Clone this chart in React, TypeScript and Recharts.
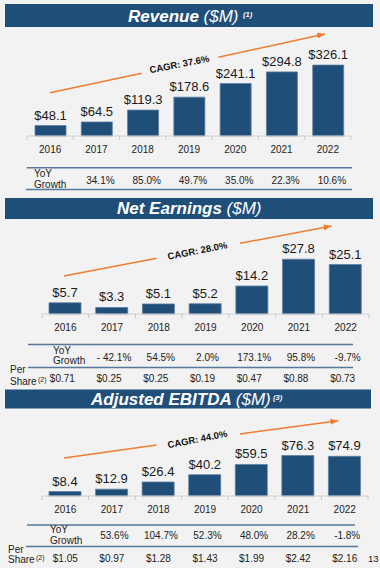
import { BarChart, Bar, XAxis, YAxis, LabelList } from "recharts"

const years = ["2016", "2017", "2018", "2019", "2020", "2021", "2022"]

const revenue = [48.1, 64.5, 119.3, 178.6, 241.1, 294.8, 326.1]
const revenueYoy = ["", "34.1%", "85.0%", "49.7%", "35.0%", "22.3%", "10.6%"]

const netEarnings = [5.7, 3.3, 5.1, 5.2, 14.2, 27.8, 25.1]
const netYoy = ["", "- 42.1%", "54.5%", "2.0%", "173.1%", "95.8%", "-9.7%"]
const netPerShare = ["$0.71", "$0.25", "$0.25", "$0.19", "$0.47", "$0.88", "$0.73"]

const ebitda = [8.4, 12.9, 26.4, 40.2, 59.5, 76.3, 74.9]
const ebitdaYoy = ["", "53.6%", "104.7%", "52.3%", "48.0%", "28.2%", "-1.8%"]
const ebitdaPerShare = ["$1.05", "$0.97", "$1.28", "$1.43", "$1.99", "$2.42", "$2.16"]

const cagr = ["37.6%", "28.0%", "44.0%"]

const NAVY = "#1f4e79"
const ORANGE = "#ed7d31"
const LINE = "#56799b"
const FONT = "'Liberation Sans', Arial, sans-serif"

type SectionProps = {
  top: number
  height: number
  left: number
  right: number
  baseline: number
  marginTop: number
  max: number
  barSize: number
  values: number[]
  yoy: string[]
  yoyDx: number
  yoyDy: number
  perShare?: string[]
  psDx?: number
  psDy?: number
}

function Section(p: SectionProps) {
  const data = years.map((year, i) => ({ year, value: p.values[i] }))
  const band = (p.right - p.left) / years.length

  const renderTick = (props: any) => {
    const { x, y, index, payload } = props
    const i = index as number
    return (
      <g>
        <line x1={x - band / 2} x2={x - band / 2} y1={y} y2={y + 4} stroke="#c8c8c8" />
        {i === years.length - 1 && (
          <line x1={x + band / 2} x2={x + band / 2} y1={y} y2={y + 4} stroke="#c8c8c8" />
        )}
        <text x={x} y={y + 17} textAnchor="middle" fontSize={10} fill="#222">
          {payload.value}
        </text>
        {p.yoy[i] && (
          <text x={x + p.yoyDx} y={y + p.yoyDy} textAnchor="middle" fontSize={10} fill="#222">
            {p.yoy[i]}
          </text>
        )}
        {p.perShare && (
          <text x={x + (p.psDx || 0)} y={y + (p.psDy || 0)} textAnchor="middle" fontSize={10} fill="#222">
            {p.perShare[i]}
          </text>
        )}
      </g>
    )
  }

  return (
    <div style={{ position: "absolute", left: 0, top: p.top }}>
      <BarChart
        width={380}
        height={p.height}
        data={data}
        margin={{ top: p.marginTop, right: 380 - p.right, left: p.left, bottom: 0 }}
      >
        <XAxis
          dataKey="year"
          axisLine={{ stroke: "#d0d0d0" }}
          tickLine={false}
          tickSize={0}
          tickMargin={0}
          interval={0}
          height={p.height - p.baseline}
          tick={renderTick}
        />
        <YAxis hide domain={[0, p.max]} />
        <Bar dataKey="value" fill={NAVY} stroke="#5e7fa0" strokeWidth={0.8} barSize={p.barSize} isAnimationActive={false}>
          <LabelList
            dataKey="value"
            position="top"
            offset={6}
            fontSize={13}
            fill="#1a1a1a"
            formatter={(v: any) => `$${Number(v).toFixed(1)}`}
          />
        </Bar>
      </BarChart>
    </div>
  )
}

function Arrow(props: { a: number[]; b: number[]; c: number[]; d: number[]; tx: number; ty: number; label: string }) {
  const { a, b, c, d, tx, ty, label } = props
  return (
    <g>
      <line x1={a[0]} y1={a[1]} x2={b[0]} y2={b[1]} stroke={ORANGE} strokeWidth={1.5} />
      <line x1={c[0]} y1={c[1]} x2={d[0]} y2={d[1]} stroke={ORANGE} strokeWidth={1.5} markerEnd="url(#ah)" />
      <text
        x={tx}
        y={ty}
        textAnchor="middle"
        fontSize={9.5}
        fontWeight="bold"
        fill="#111"
        transform={`rotate(-11 ${tx} ${ty})`}
      >
        CAGR: {label}
      </text>
    </g>
  )
}

export default function App() {
  return (
    <div
      style={{
        position: "absolute",
        left: 0,
        top: 0,
        width: 380,
        height: 568,
        background: "#f2f2f2",
        fontFamily: FONT,
        overflow: "hidden",
      }}
    >
      <Section
        top={28}
        height={168}
        left={27}
        right={351}
        baseline={108}
        marginTop={21}
        max={400}
        barSize={31}
        values={revenue}
        yoy={revenueYoy}
        yoyDx={4}
        yoyDy={48}
      />
      <Section
        top={220}
        height={169}
        left={42}
        right={369}
        baseline={94}
        marginTop={25}
        max={35}
        barSize={32}
        values={netEarnings}
        yoy={netYoy}
        yoyDx={2}
        yoyDy={46.5}
        perShare={netPerShare}
        psDx={-3}
        psDy={67.7}
      />
      <Section
        top={409}
        height={159}
        left={42}
        right={368}
        baseline={87}
        marginTop={34}
        max={100}
        barSize={32}
        values={ebitda}
        yoy={ebitdaYoy}
        yoyDx={2.5}
        yoyDy={43}
        perShare={ebitdaPerShare}
        psDx={0}
        psDy={65.7}
      />

      <svg
        width={380}
        height={568}
        style={{ position: "absolute", left: 0, top: 0, pointerEvents: "none" }}
      >
        <defs>
          <marker id="ah" markerWidth="8" markerHeight="6" refX="8" refY="3" orient="auto" markerUnits="userSpaceOnUse">
            <path d="M0,0 L8,3 L0,6 z" fill={ORANGE} />
          </marker>
        </defs>

        {/* title bars */}
        <rect x={5} y={4} width={368} height={23} fill={NAVY} />
        <text x={128} y={21.5} fill="#fff" fontSize={17} fontStyle="italic" fontWeight="bold">
          Revenue <tspan fontWeight="normal">($M)</tspan>
        </text>
        <text x={243} y={16.5} fill="#fff" fontSize={7.5} fontStyle="italic" fontWeight="bold">(1)</text>

        <rect x={5} y={198} width={368} height={21} fill={NAVY} />
        <text x={117} y={213.5} fill="#fff" fontSize={17} fontStyle="italic" fontWeight="bold">
          Net Earnings <tspan fontWeight="normal">($M)</tspan>
        </text>

        <rect x={5} y={389.5} width={366} height={19} fill={NAVY} />
        <text x={91} y={405} fill="#fff" fontSize={17} fontStyle="italic" fontWeight="bold">
          Adjusted EBITDA <tspan fontWeight="normal">($M)</tspan>
        </text>
        <text x={273} y={399.5} fill="#fff" fontSize={7.5} fontStyle="italic" fontWeight="bold">(3)</text>

        {/* CAGR arrows */}
        <Arrow a={[50, 92.7]} b={[141.7, 73.3]} c={[218.3, 57.3]} d={[325, 34]} tx={180} ty={67.5} label={cagr[0]} />
        <Arrow a={[64, 276]} b={[156.7, 258.3]} c={[240, 243.3]} d={[331.7, 226]} tx={198} ty={254} label={cagr[1]} />
        <Arrow a={[64, 458]} b={[156.7, 445]} c={[240, 434]} d={[338.3, 420.7]} tx={198} ty={442.5} label={cagr[2]} />

        {/* table rules */}
        <line x1={26.7} x2={352} y1={167.7} y2={167.7} stroke={LINE} strokeWidth={1.6} />
        <line x1={26} x2={352} y1={189.5} y2={189.5} stroke={LINE} strokeWidth={1.6} />
        <line x1={28} x2={353} y1={344.5} y2={344.5} stroke={LINE} strokeWidth={1.6} />
        <line x1={28} x2={353} y1={367.5} y2={367.5} stroke={LINE} strokeWidth={1.6} />
        <line x1={27} x2={355} y1={525} y2={525} stroke={LINE} strokeWidth={1.6} />
        <line x1={26} x2={358} y1={546.5} y2={546.5} stroke={LINE} strokeWidth={1.6} />

        {/* row labels */}
        <g fontSize={10} fill="#222">
          <text x={34} y={176.5}>YoY</text>
          <text x={34} y={187.5}>Growth</text>

          <text x={53} y={354}>YoY</text>
          <text x={53} y={364}>Growth</text>
          <text x={10} y={373.3}>Per</text>
          <text x={10} y={385}>Share</text>
          <text x={38} y={381.5} fontSize={7}>(2)</text>

          <text x={50} y={533.3}>YoY</text>
          <text x={50} y={544}>Growth</text>
          <text x={8} y={553.3}>Per</text>
          <text x={8} y={563.3}>Share</text>
          <text x={36} y={560} fontSize={7}>(2)</text>

          <text x={368} y={562} fontSize={9.5}>13</text>
        </g>
      </svg>
    </div>
  )
}
